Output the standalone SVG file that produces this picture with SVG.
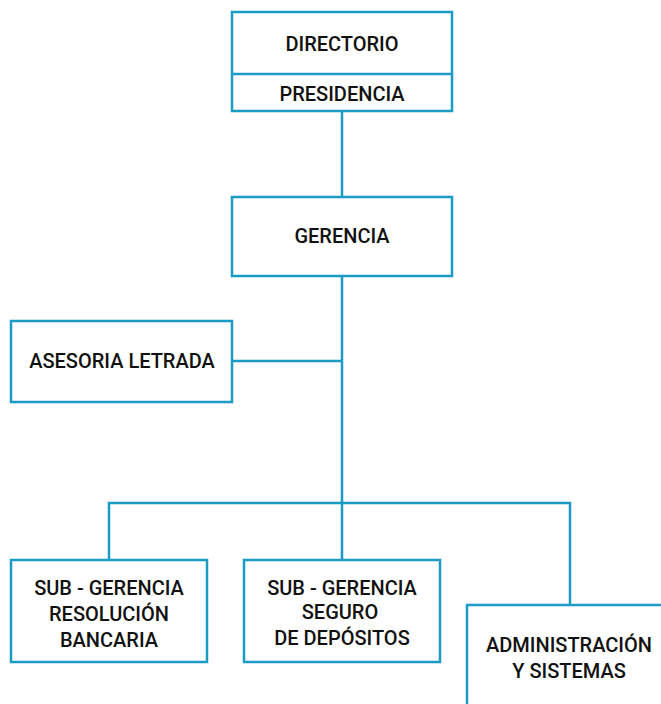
<svg xmlns="http://www.w3.org/2000/svg" width="661" height="704" viewBox="0 0 661 704">
<style>
.box{fill:#fff;stroke:#1a9bc3;stroke-width:2.5}
.ln{fill:none;stroke:#1a9bc3;stroke-width:2.5}
text{font-family:"Roboto","Liberation Sans",sans-serif;font-size:20px;font-weight:500;fill:#111;text-anchor:middle;dominant-baseline:central}
</style>
<rect width="661" height="704" fill="#fff"/>
<g id="connectors">
<path class="ln" d="M342 111V503M232 361H342M109 560V503H570V605M342 503V560"/>
</g>
<g id="directorio">
<rect class="box" x="232" y="12" width="220" height="99"/>
<path class="ln" d="M232 74H452"/>
<text x="342" y="44">DIRECTORIO</text>
<text x="342" y="94">PRESIDENCIA</text>
</g>
<g id="gerencia">
<rect class="box" x="232" y="197" width="220" height="79"/>
<text x="342" y="236">GERENCIA</text>
</g>
<g id="asesoria">
<rect class="box" x="11" y="321" width="221" height="81"/>
<text x="122" y="361">ASESORIA LETRADA</text>
</g>
<g id="sub1">
<rect class="box" x="11" y="560" width="196" height="102"/>
<text x="109" y="588">SUB - GERENCIA</text>
<text x="109" y="614">RESOLUCIÓN</text>
<text x="109" y="640">BANCARIA</text>
</g>
<g id="sub2">
<rect class="box" x="244" y="560" width="196" height="102"/>
<text x="342" y="588">SUB - GERENCIA</text>
<text x="340" y="612">SEGURO</text>
<text x="342" y="638">DE DEPÓSITOS</text>
</g>
<g id="admin">
<rect class="box" x="467" y="605" width="200" height="110"/>
<text x="569" y="645">ADMINISTRACIÓN</text>
<text x="569" y="671">Y SISTEMAS</text>
</g>
</svg>
